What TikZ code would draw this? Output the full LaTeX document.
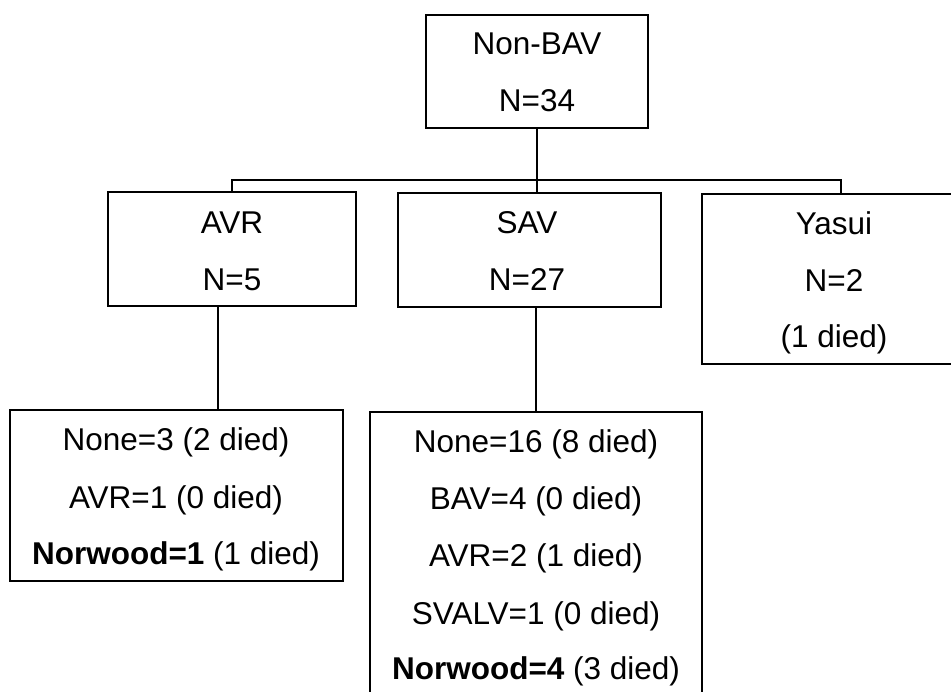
\documentclass[tikz,border=0pt]{standalone}
\usepackage{fontspec}
\setmainfont{Liberation Sans}
\begin{document}
\begin{tikzpicture}[x=1pt,y=-1pt,
  box/.style={draw, line width=1.8pt, inner sep=0pt},
  conn/.style={draw, line width=1.3pt},
  txt/.style={anchor=base, inner sep=0pt, font=\fontsize{31.5}{36}\selectfont}]
\useasboundingbox (0,0) rectangle (951,692);
% boxes
\node[box, minimum width=222pt, minimum height=113pt] (nonbav) at (537,71.5) {};
\node[box, minimum width=248pt, minimum height=114pt] (avr) at (232,249) {};
\node[box, minimum width=263pt, minimum height=114pt] (sav) at (529.5,250) {};
\node[box, minimum width=251pt, minimum height=170pt] (yasui) at (827.5,279) {};
\node[box, minimum width=333pt, minimum height=171pt] (lbox) at (176.5,495.5) {};
\node[box, minimum width=332pt, minimum height=293pt] (rbox) at (536,558.5) {};
% texts
\node[txt] (t1) at (537,55) {Non-BAV};
\node[txt] (t2) at (537,112) {N=34};
\node[txt] (t3) at (232,234) {AVR};
\node[txt] (t4) at (232,291) {N=5};
\node[txt] (t5) at (527,234) {SAV};
\node[txt] (t6) at (527,291) {N=27};
\node[txt] (t7) at (834,235) {Yasui};
\node[txt] (t8) at (834,292) {N=2};
\node[txt] (t9) at (834,348) {(1 died)};
\node[txt] (l1) at (176,451) {None=3 (2 died)};
\node[txt] (l2) at (176,508) {AVR=1 (0 died)};
\node[txt] (l3) at (176,564) {\textbf{Norwood=1} (1 died)};
\node[txt] (r1) at (536,453) {None=16 (8 died)};
\node[txt] (r2) at (536,509) {BAV=4 (0 died)};
\node[txt] (r3) at (536,566) {AVR=2 (1 died)};
\node[txt] (r4) at (536,624) {SVALV=1 (0 died)};
\node[txt] (r5) at (536,679) {\textbf{Norwood=4} (3 died)};
% connectors
\coordinate (busL) at (232,180);
\coordinate (busR) at (841,180);
\coordinate (ax) at (218,0);
\draw[conn] (nonbav.south) -- (sav.north -| nonbav.south);
\draw[conn] (avr.north) -- (busL) -- (busR) -- (busR |- yasui.north);
\draw[conn] (avr.south -| ax) -- (lbox.north -| ax);
\draw[conn] (sav.south -| rbox.north) -- (rbox.north);
\end{tikzpicture}
\end{document}
